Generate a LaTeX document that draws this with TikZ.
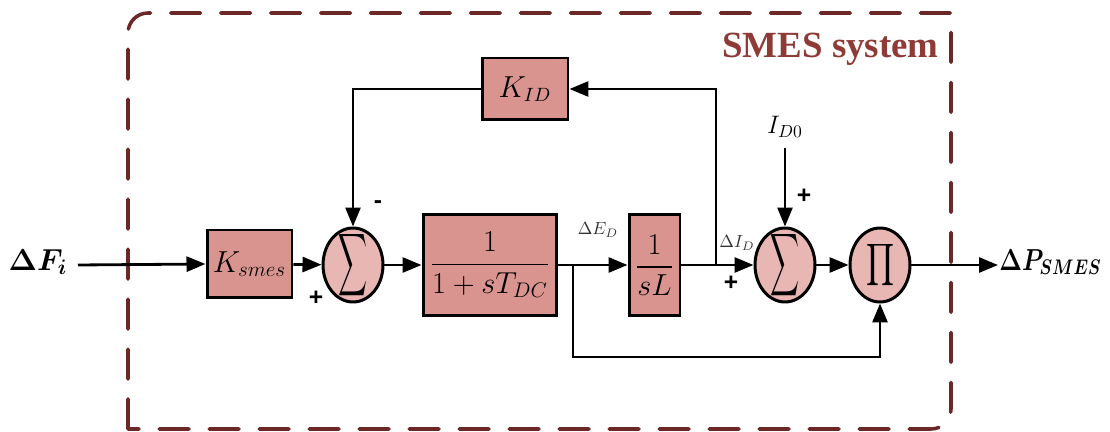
\documentclass[tikz,border=0pt]{standalone}
\usepackage{amsmath,bm,graphicx}
\usepackage{fontspec}
\newfontfamily\tnr{Liberation Serif}
\newfontfamily\arl{Liberation Sans}
\usetikzlibrary{arrows.meta,shapes.geometric}
\definecolor{boxfill}{HTML}{D9948F}
\definecolor{circfill}{HTML}{E8B7B3}
\definecolor{dashc}{HTML}{6B2826}
\definecolor{titlec}{HTML}{8E3B37}
\begin{document}
\begin{tikzpicture}[x=0.02cm,y=-0.02cm,
  >={Triangle[length=0.38cm,width=0.3cm]},
  every path/.style={line width=1.6pt},
  blk/.style={draw,line width=1.7pt,fill=boxfill,inner sep=0pt},
  sumc/.style={draw,ellipse,line width=1.7pt,fill=circfill,inner sep=0pt,minimum width=1.2cm,minimum height=1.48cm},
  glyph/.style={inner sep=0pt},
  sgn/.style={font=\arl\bfseries\fontsize{14}{14}\selectfont,inner sep=0pt},
  sml/.style={font=\fontsize{10}{10}\selectfont,inner sep=0pt,text=black!80},
  dashbox/.style={draw=dashc,line width=2pt,dash pattern=on 0.6cm off 0.4cm,line cap=round}]
\useasboundingbox (0,0) rectangle (1110,432);
% dashed frame
\draw[dashbox] (128,429) -- (128,33) arc[start angle=180,end angle=90,radius=0.4cm] -- (951,13) -- (951,409) arc[start angle=0,end angle=-90,radius=0.4cm] -- cycle;
\node[font=\tnr\bfseries\fontsize{21}{21}\selectfont,text=titlec,anchor=base east,inner sep=0pt] (title) at (940,58) {SMES system};
% blocks
\node[blk,minimum width=1.7cm,minimum height=1.36cm,font=\fontsize{17}{17}\selectfont] (ks) at (249.5,264) {$K_{smes}$};
\node[sumc] (s1) at (353,265) {};
\node[glyph] (s1g) at (s1) {\resizebox*{0.58cm}{1.4cm}{$\displaystyle\sum$}};
\node[blk,minimum width=2.68cm,minimum height=2.04cm,font=\fontsize{17}{17}\selectfont] (tdc) at (490,265) {$\dfrac{1}{1+sT_{DC}}$};
\node[blk,minimum width=1.02cm,minimum height=2.04cm,font=\fontsize{17}{17}\selectfont] (sl) at (654.5,265) {$\dfrac{1}{sL}$};
\node[sumc] (s2) at (785,265) {};
\node[glyph] (s2g) at (s2) {\resizebox*{0.58cm}{1.4cm}{$\displaystyle\sum$}};
\node[sumc] (pi) at (880,265) {};
\node[glyph] (pig) at (pi) {\resizebox*{0.56cm}{0.94cm}{$\displaystyle\prod$}};
\node[blk,minimum width=1.72cm,minimum height=1.24cm,font=\fontsize{16}{16}\selectfont] (kid) at (525,89) {$K_{ID}$};
% texts
\node[font=\fontsize{18}{18}\selectfont,inner sep=0pt] (fi) at (38,262) {$\bm{\Delta F_i}$};
\node[font=\fontsize{17}{17}\selectfont,inner sep=0pt,anchor=west] (ps) at (998,262) {\scalebox{0.8}[1]{$\bm{\Delta P_{SMES}}$}};
\node[font=\fontsize{14}{14}\selectfont,inner sep=0pt] (id0) at (785,127) {$I_{D0}$};
\node[sml] (ed) at (598,230) {$\Delta E_D$};
\node[sml] (idl) at (737,243) {$\Delta I_D$};
\node[sgn] (m1) at (378,205) {-};
\node[sgn] (p1) at (316,298) {+};
\node[sgn] (p2) at (731,283) {+};
\node[sgn] (p3) at (804,196) {+};
% connectors
\coordinate (in) at (78,265);
\coordinate (b1) at (573,265);
\coordinate (b1d) at (573,357);
\coordinate (b2) at (716,265);
\coordinate (out) at (998,265);
\draw[->] (in) -- (ks.west);
\draw[->] (ks) -- (s1);
\draw[->] (s1) -- (tdc);
\draw[->] (tdc) -- (sl);
\draw[->] (sl) -- (s2);
\draw[->] (s2) -- (pi);
\draw[->] (pi) -- (out);
\draw[->] (b1) -- (b1d) -| (pi.south);
\draw[->] (b2) |- (kid.east);
\draw[->] (kid.west) -| (s1.north);
\draw[->,shorten <=5pt] (id0.south) -- (s2.north);
\end{tikzpicture}
\end{document}
